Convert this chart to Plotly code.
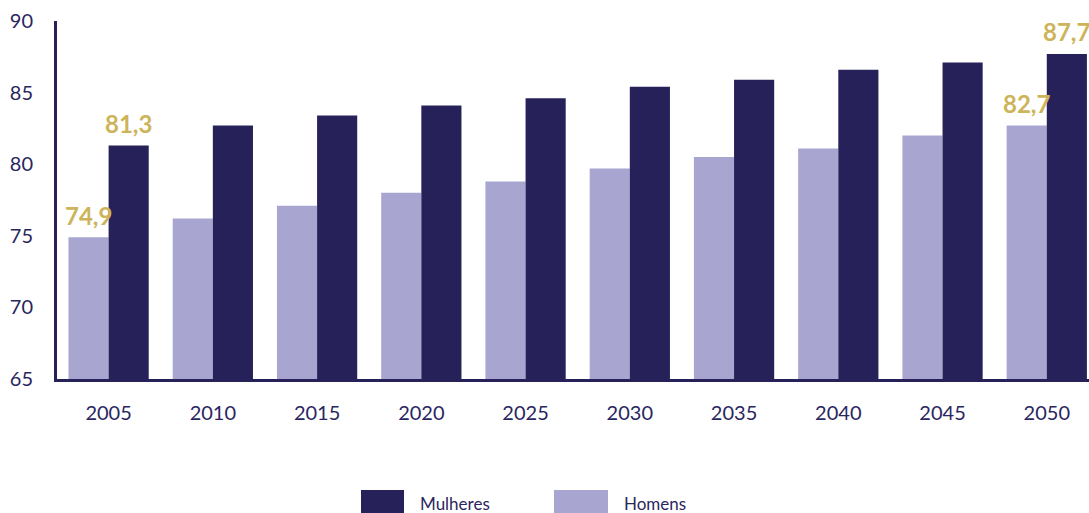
import plotly.graph_objects as go

# Life expectancy at birth by sex, projected to 2050
years = ["2005", "2010", "2015", "2020", "2025", "2030", "2035", "2040", "2045", "2050"]
homens = [74.9, 76.2, 77.1, 78.0, 78.8, 79.7, 80.5, 81.1, 82.0, 82.7]
mulheres = [81.3, 82.7, 83.4, 84.1, 84.6, 85.4, 85.9, 86.6, 87.1, 87.7]
y_ticks = [65, 70, 75, 80, 85, 90]

# Only the first and last values of each series are labelled
labelled = [0, len(years) - 1]

NAVY = "#262259"
LILAC = "#a8a5d1"
GOLD = "#cdb45a"
TEXT = "#2a2660"
FONT = "Lato"
BARGAP = 0.23

fig = go.Figure()
fig.add_trace(go.Bar(x=years, y=homens, name="Homens",
                     marker_color=LILAC, marker_line_width=0))
fig.add_trace(go.Bar(x=years, y=mulheres, name="Mulheres",
                     marker_color=NAVY, marker_line_width=0))

fig.update_layout(
    width=1089, height=513,
    margin=dict(l=57, r=0, t=21, b=134),
    paper_bgcolor="white", plot_bgcolor="white",
    barmode="group", bargap=BARGAP, bargroupgap=0,
    showlegend=False,
    separators=", ",
    font=dict(family=FONT, color=TEXT, size=20),
)
fig.update_xaxes(
    type="category",
    range=[-0.495, 9.405], showgrid=False, showline=True, linecolor=NAVY, linewidth=3,
    ticks="outside", ticklen=0, tickcolor="rgba(0,0,0,0)", ticklabelstandoff=14,
    tickfont=dict(family=FONT, size=20, color=TEXT),
)
fig.update_yaxes(
    range=[65, 90], tickvals=y_ticks, showgrid=False, zeroline=False,
    showline=True, linecolor=NAVY, linewidth=3,
    ticks="outside", ticklen=0, tickcolor="rgba(0,0,0,0)", ticklabelstandoff=17,
    tickfont=dict(family=FONT, size=20, color=TEXT),
)

# Value labels above the first and last bar of each series
plot_w = 1032
cat_px = plot_w / (9.405 + 0.495)
bar_offset = (1 - BARGAP) / 4 * cat_px
for values, side in ((homens, -1), (mulheres, 1)):
    for i in labelled:
        fig.add_annotation(
            x=i, y=values[i], xref="x", yref="y",
            text=f"{values[i]:.1f}".replace(".", ","),
            xshift=side * bar_offset, yshift=22,
            xanchor="center", yanchor="middle", showarrow=False,
            font=dict(family=FONT, size=24, color=GOLD, weight="bold"),
        )

# Legend drawn as swatches plus labels below the axis
legend_items = [("Mulheres", NAVY, 361, 404, 418), ("Homens", LILAC, 554, 608, 622)]
for name, color, x0, x1, tx in legend_items:
    fig.add_shape(type="rect", xref="paper", yref="paper",
                  x0=(x0 - 57) / plot_w, x1=(x1 - 57) / plot_w,
                  y0=(379 - 513) / 358, y1=(379 - 490) / 358,
                  fillcolor=color, line_width=0)
    fig.add_annotation(text=name, xref="paper", yref="paper",
                       x=(tx - 57) / plot_w, y=(379 - 503) / 358,
                       xanchor="left", yanchor="middle", showarrow=False,
                       font=dict(family=FONT, size=17, color=TEXT))

fig.write_html("out.html")
